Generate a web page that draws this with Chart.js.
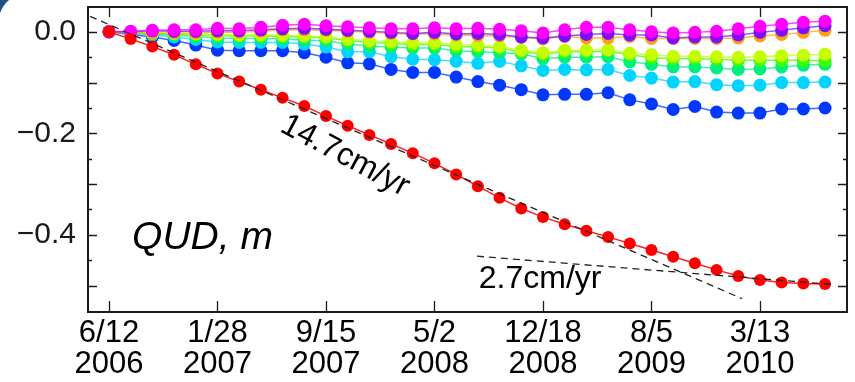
<!DOCTYPE html>
<html>
<head>
<meta charset="utf-8">
<script src="https://cdn.jsdelivr.net/npm/chart.js@4/dist/chart.umd.min.js"></script>
<style>
  html, body { margin: 0; padding: 0; background: #ffffff; }
  #wrap { width: 855px; height: 382px; position: relative; }
</style>
</head>
<body>
<div id="wrap"><canvas id="c" width="855" height="382"></canvas></div>
<script>
// Acquisition epochs, in days after 2006-06-12 (46-day repeat cycle)
const epochDays = [0, 46, 92, 138, 184, 230, 276, 322, 368, 414, 460, 506, 552, 598, 644, 690, 736,
  782, 828, 874, 920, 966, 1012, 1058, 1104, 1150, 1196, 1242, 1288, 1334, 1380, 1426, 1472, 1518];

// Date tick positions (days) and their two-line labels
const dayTicks = [0, 230, 460, 690, 920, 1150, 1380];
const dateLabels = [['6/12', '2006'], ['1/28', '2007'], ['9/15', '2007'], ['5/2', '2008'],
  ['12/18', '2008'], ['8/5', '2009'], ['3/13', '2010']];

// Vertical axis: labelled ticks and tick marks (m)
const yLabelTicks = [0, -0.2, -0.4];
const yLabelText = ['0.0', '\u22120.2', '\u22120.4'];
const yTickMarks = [0, -0.05, -0.1, -0.15, -0.2, -0.25, -0.3, -0.35, -0.4, -0.45, -0.5];

// Cumulative displacement series (m)
const seriesRed = [0, -0.014, -0.029, -0.045, -0.064, -0.082, -0.098, -0.114, -0.130, -0.146, -0.166,
  -0.185, -0.203, -0.221, -0.239, -0.259, -0.281, -0.304, -0.327, -0.348, -0.365, -0.379, -0.392,
  -0.404, -0.417, -0.430, -0.443, -0.456, -0.469, -0.481, -0.489, -0.494, -0.496, -0.497];
const seriesMagenta = [0, 0.001, 0.003, 0.004, 0.004, 0.007, 0.006, 0.009, 0.013, 0.015, 0.012, 0.010,
  0.008, 0.006, 0.006, 0.008, 0.006, 0.007, 0.005, 0.002, -0.002, 0.004, 0.009, 0.009, 0.004, 0.000,
  -0.002, -0.001, 0.001, 0.006, 0.011, 0.015, 0.019, 0.021];
const seriesPurple = [0, 0, 0.002, 0.001, 0.001, 0.002, 0.002, 0.004, 0.006, 0.007, 0.005, 0.003, 0.001,
  -0.001, -0.003, -0.001, -0.004, -0.003, -0.005, -0.010, -0.012, -0.008, -0.005, -0.003, -0.006,
  -0.006, -0.012, -0.010, -0.010, -0.006, -0.001, 0.003, 0.008, 0.012];
const seriesOrange = [0, -0.001, -0.002, -0.002, -0.002, -0.001, -0.001, 0.001, 0.004, 0.004, 0.003,
  0.001, -0.001, -0.003, -0.004, -0.004, -0.006, -0.007, -0.008, -0.011, -0.014, -0.009, -0.012,
  -0.012, -0.009, -0.013, -0.013, -0.013, -0.013, -0.012, -0.008, -0.005, -0.001, 0.003];
const seriesYellowGreen = [0, -0.001, -0.002, -0.003, -0.004, -0.005, -0.006, -0.006, -0.007, -0.008,
  -0.010, -0.015, -0.018, -0.020, -0.022, -0.022, -0.025, -0.026, -0.029, -0.036, -0.041, -0.036,
  -0.036, -0.035, -0.042, -0.045, -0.048, -0.048, -0.049, -0.050, -0.049, -0.047, -0.046, -0.044];
const seriesGreen = [0, -0.002, -0.003, -0.004, -0.006, -0.007, -0.008, -0.008, -0.009, -0.010, -0.012,
  -0.017, -0.021, -0.023, -0.025, -0.025, -0.029, -0.030, -0.032, -0.039, -0.044, -0.039, -0.039,
  -0.038, -0.045, -0.051, -0.053, -0.053, -0.054, -0.056, -0.056, -0.056, -0.056, -0.057];
const seriesSpring = [0, -0.002, -0.004, -0.006, -0.009, -0.012, -0.013, -0.013, -0.014, -0.016, -0.018,
  -0.024, -0.028, -0.030, -0.032, -0.032, -0.037, -0.039, -0.041, -0.043, -0.053, -0.050, -0.050,
  -0.049, -0.059, -0.064, -0.069, -0.069, -0.071, -0.074, -0.073, -0.069, -0.066, -0.064];
const seriesCyan = [0, -0.003, -0.006, -0.010, -0.015, -0.020, -0.021, -0.021, -0.021, -0.024, -0.030,
  -0.039, -0.039, -0.049, -0.054, -0.055, -0.058, -0.062, -0.058, -0.067, -0.076, -0.074, -0.075,
  -0.074, -0.086, -0.091, -0.099, -0.098, -0.104, -0.106, -0.105, -0.100, -0.100, -0.099];
const seriesBlue = [0, -0.005, -0.010, -0.017, -0.026, -0.036, -0.037, -0.037, -0.037, -0.041, -0.050,
  -0.061, -0.063, -0.074, -0.080, -0.080, -0.089, -0.098, -0.105, -0.114, -0.124, -0.123, -0.123,
  -0.120, -0.134, -0.142, -0.153, -0.147, -0.158, -0.160, -0.160, -0.152, -0.152, -0.150];

// Trend lines: rate (m/yr), anchor (day, m) and extent (days)
const fastRate = 0.147;
const fastAnchor = [617, -0.234];
const fastSpan = [-40, 1342];
const slowRate = 0.027;
const slowAnchor = [780, -0.442];
const slowSpan = [780, 1535];

function trend(rate, anchor, span) {
  return span.map(d => ({ x: d, y: anchor[1] - rate * (d - anchor[0]) / 365.25 }));
}
function pts(values) {
  return values.map((v, i) => ({ x: epochDays[i], y: v }));
}

const FONT = '"Liberation Sans", Arial, Helvetica, sans-serif';

function seriesSet(label, values, color, lineColor, radius) {
  return {
    label, data: pts(values),
    borderColor: lineColor, backgroundColor: color,
    pointBackgroundColor: color, pointBorderWidth: 0,
    pointRadius: radius, borderWidth: 1.5, tension: 0
  };
}
function dashedSet(label, data) {
  return {
    label, data, borderColor: '#222222', borderWidth: 1.3,
    borderDash: [7, 5], pointRadius: 0, tension: 0
  };
}

// Frame, inward tick marks and text annotations
const framePlugin = {
  id: 'frame',
  afterDraw(chart) {
    const { ctx, chartArea: a, scales } = chart;
    const xs = scales.x, ys = scales.y;
    ctx.save();
    // slide corner ornament
    ctx.fillStyle = '#1f4f86';
    ctx.beginPath();
    ctx.moveTo(0, 0); ctx.lineTo(9, 0);
    ctx.quadraticCurveTo(3, 5, 0, 13);
    ctx.closePath();
    ctx.fill();

    ctx.strokeStyle = '#1c1c1c';
    ctx.lineWidth = 2;
    ctx.strokeRect(a.left, a.top, a.right - a.left, a.bottom - a.top);
    ctx.lineWidth = 1.3;
    ctx.beginPath();
    yTickMarks.forEach(v => {
      const y = Math.round(ys.getPixelForValue(v)) + 0.5;
      const major = Math.round(v * 100) % 10 === 0;
      const len = major ? 9 : 4;
      ctx.moveTo(a.left, y); ctx.lineTo(a.left + len, y);
      ctx.moveTo(a.right, y); ctx.lineTo(a.right - len, y);
    });
    dayTicks.forEach(d => {
      const x = Math.round(xs.getPixelForValue(d)) + 0.5;
      ctx.moveTo(x, a.bottom); ctx.lineTo(x, a.bottom - 11);
      ctx.moveTo(x, a.top); ctx.lineTo(x, a.top + 10);
    });
    ctx.stroke();

    ctx.fillStyle = '#000000';
    ctx.textBaseline = 'alphabetic';
    ctx.textAlign = 'left';
    // site label
    ctx.font = 'italic 39px ' + FONT;
    ctx.fillText('QUD, m', xs.getPixelForValue(49), ys.getPixelForValue(-0.428));
    // slow rate label
    ctx.font = '32px ' + FONT;
    ctx.fillText('2.7cm/yr', xs.getPixelForValue(784), ys.getPixelForValue(-0.505));
    // fast rate label, along the trend
    ctx.save();
    ctx.translate(xs.getPixelForValue(360), ys.getPixelForValue(-0.195));
    ctx.rotate(28 * Math.PI / 180);
    ctx.fillText('14.7cm/yr', 0, 0);
    ctx.restore();
    ctx.restore();
  }
};

new Chart(document.getElementById('c'), {
  type: 'line',
  data: {
    datasets: [
      dashedSet('trend 14.7', trend(fastRate, fastAnchor, fastSpan)),
      dashedSet('trend 2.7', trend(slowRate, slowAnchor, slowSpan)),
      seriesSet('red', seriesRed, '#ff0000', '#ff2020', 6),
      seriesSet('magenta', seriesMagenta, '#ff00ff', 'rgba(255,0,255,0.75)', 6.5),
      seriesSet('purple', seriesPurple, '#7a10ff', 'rgba(122,16,255,0.75)', 6.5),
      seriesSet('orange', seriesOrange, '#ffa010', 'rgba(255,160,16,0.75)', 6.5),
      seriesSet('yellowgreen', seriesYellowGreen, '#c4ff00', 'rgba(196,255,0,0.75)', 6.5),
      seriesSet('green', seriesGreen, '#3cff00', 'rgba(60,255,0,0.75)', 6.5),
      seriesSet('spring', seriesSpring, '#00f080', 'rgba(0,240,128,0.75)', 6.5),
      seriesSet('cyan', seriesCyan, '#00d4ff', 'rgba(0,212,255,0.75)', 6.5),
      seriesSet('blue', seriesBlue, '#0038ff', 'rgba(0,56,255,0.75)', 6.5)
    ]
  },
  options: {
    responsive: false,
    animation: false,
    events: [],
    layout: { padding: { top: 7, right: 8, left: 0, bottom: 0 } },
    plugins: { legend: { display: false }, tooltip: { enabled: false } },
    scales: {
      x: {
        type: 'linear', min: -44.5, max: 1564.5,
        grid: { display: false, drawTicks: false },
        border: { display: false },
        afterBuildTicks(s) { s.ticks = dayTicks.map(v => ({ value: v })); },
        afterFit(s) {
          s.height = 70;
          s.paddingLeft = 0; s.paddingRight = 0; s.paddingTop = 0; s.paddingBottom = 0;
        },
        ticks: {
          autoSkip: false, maxRotation: 0, padding: 6,
          color: '#000000',
          font: { family: FONT, size: 31, lineHeight: 1.0 },
          callback(v) { const i = dayTicks.indexOf(v); return i >= 0 ? dateLabels[i] : ''; }
        }
      },
      y: {
        type: 'linear', min: -0.552, max: 0.049,
        grid: { display: false, drawTicks: false },
        border: { display: false },
        afterBuildTicks(s) { s.ticks = yLabelTicks.map(v => ({ value: v })); },
        afterFit(s) {
          s.width = 88;
          s.paddingLeft = 0; s.paddingRight = 0; s.paddingTop = 0; s.paddingBottom = 0;
        },
        ticks: {
          autoSkip: false, padding: 12,
          color: '#1a1a1a',
          font: { family: FONT, size: 30 },
          callback(v) { const i = yLabelTicks.indexOf(v); return i >= 0 ? yLabelText[i] : ''; }
        }
      }
    }
  },
  plugins: [framePlugin]
});
</script>
</body>
</html>
